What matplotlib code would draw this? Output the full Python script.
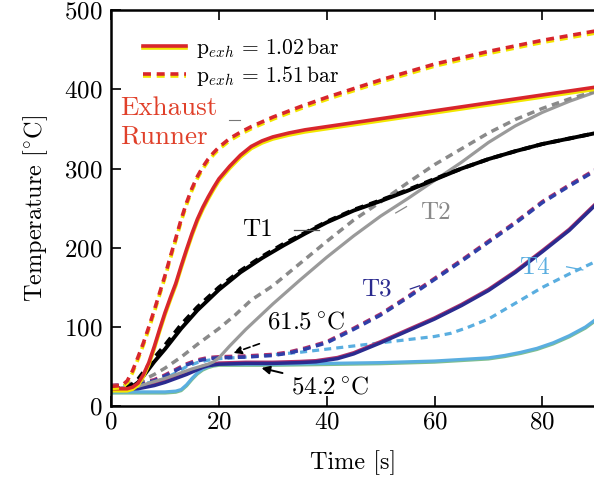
import matplotlib
matplotlib.use("Agg")
import matplotlib.pyplot as plt
import matplotlib.patheffects as pe

plt.rcParams['font.family'] = 'serif'
plt.rcParams['font.serif'] = ['cmr10', 'DejaVu Serif']
plt.rcParams['mathtext.fontset'] = 'cm'
plt.rcParams['axes.formatter.use_mathtext'] = True

# ---- data ----
t_ex_s = [0, 3, 4, 5, 6, 7, 8, 9, 10, 11, 12, 13, 14, 15, 16, 17, 18, 19, 20, 22, 24, 26, 28, 30, 33, 36, 40, 50, 60, 70, 80, 90]
T_ex_s = [22, 22, 24, 29, 40, 55, 75, 97, 118, 137, 155, 177, 198, 218, 236, 251, 264, 276, 287, 303, 317, 328, 335, 340, 345, 349, 353, 363, 373, 383, 393, 403]
t_ex_d = [0, 2, 3, 4, 5, 6, 7, 8, 9, 10, 11, 12, 13, 14, 15, 16, 17, 18, 19, 20, 22, 24, 26, 28, 30, 35, 40, 50, 60, 70, 80, 90]
T_ex_d = [25, 26, 32, 45, 62, 80, 100, 121, 143, 165, 189, 212, 236, 257, 275, 290, 302, 312, 320, 327, 338, 346, 353, 359, 365, 378, 390, 412, 432, 448, 462, 474]

t_T1 = [0, 3, 4, 5, 6, 7, 8, 10, 13, 16, 20, 24, 28, 32, 36, 40, 45, 50, 55, 60, 65, 70, 75, 80, 85, 90]
T1_s = [20, 22, 25, 30, 38, 47, 56, 72, 98, 121, 147, 169, 187, 203, 218, 232, 247, 259, 272, 286, 300, 312, 322, 331, 338, 345]
T1_d = [22, 24, 28, 34, 43, 52, 61, 77, 103, 125, 150, 171, 189, 205, 219, 233, 248, 260, 273, 287, 300, 312, 322, 331, 338, 345]

t_T2s = [0, 5, 10, 15, 17, 18, 19, 20, 22, 25, 30, 35, 40, 45, 50, 55, 60, 65, 70, 75, 80, 85, 90]
T2_s = [22, 25, 35, 47, 51, 53, 56, 61, 76, 97, 129, 159, 188, 215, 240, 262, 285, 308, 333, 354, 371, 385, 397]
t_T2d = [0, 5, 8, 10, 13, 16, 20, 23, 26, 30, 35, 40, 45, 50, 55, 60, 65, 70, 75, 80, 85, 90]
T2_d = [25, 30, 40, 48, 62, 78, 98, 115, 134, 152, 180, 208, 235, 258, 282, 305, 325, 345, 362, 376, 388, 398]

t_T3s = [0, 5, 8, 10, 12, 14, 16, 17, 18, 20, 25, 30, 35, 38, 40, 42, 45, 50, 55, 60, 65, 70, 75, 80, 85, 90]
T3_s = [20, 22, 26, 30, 35, 40, 46, 49, 51, 53, 54, 54, 55, 56, 58, 60, 66, 80, 95, 110, 127, 146, 169, 195, 222, 255]
t_T3d = [0, 5, 8, 10, 12, 14, 16, 18, 20, 25, 30, 33, 36, 40, 45, 50, 55, 60, 65, 70, 75, 80, 85, 90]
T3_d = [25, 27, 32, 38, 45, 52, 57, 60, 61, 62, 64, 67, 72, 80, 97, 115, 137, 160, 183, 207, 231, 257, 278, 298]

t_T4s = [0, 5, 10, 12, 13, 14, 15, 16, 17, 18, 19, 20, 25, 30, 40, 50, 60, 65, 70, 73, 76, 79, 82, 85, 88, 90]
T4_s = [18, 18, 18, 19, 21, 27, 35, 42, 47, 50, 52, 53, 53, 53, 54, 55, 57, 59, 61, 64, 68, 73, 80, 89, 100, 110]
t_T4d = [0, 5, 8, 10, 12, 14, 16, 18, 20, 25, 30, 35, 40, 45, 50, 55, 60, 63, 66, 70, 75, 80, 85, 90]
T4_d = [25, 27, 31, 35, 42, 50, 55, 58, 60, 62, 65, 68, 72, 76, 80, 84, 88, 92, 99, 110, 130, 150, 167, 183]

xticks = [0, 20, 40, 60, 80]
yticks = [0, 100, 200, 300, 400, 500]

fig = plt.figure(figsize=(5.94, 4.87), dpi=100)
ax = fig.add_axes([0.187, 0.166, 0.815, 0.813])

def shadow(color, off=(0, -1.5)):
    return [pe.SimpleLineShadow(offset=off, shadow_color=color, alpha=1.0), pe.Normal()]

red = '#d8262c'
yel = '#f2e600'
dash = (2.2, 1.6)

ax.plot(t_T4s, T4_s, color='#5aaee0', lw=2.3, path_effects=shadow('#7fbf90', (0, -0.8)))
ax.plot(t_T4d, T4_d, color='#5aaee0', lw=2.3, dashes=dash)
ax.plot(t_T3s, T3_s, color='#2b2b8f', lw=2.5, path_effects=shadow('#b0306a', (0, 0.8)))
ax.plot(t_T3d, T3_d, color='#2f3fa8', lw=2.5, dashes=dash, path_effects=shadow('#b0306a', (0, 0.8)))
ax.plot(t_T2s, T2_s, color='#9a9a9a', lw=2.3)
ax.plot(t_T2d, T2_d, color='#8a8a8a', lw=2.5, dashes=dash)
ax.plot(t_T1, T1_s, color='black', lw=2.8)
ax.plot(t_T1, T1_d, color='black', lw=2.8, dashes=dash)
ax.plot(t_ex_s, T_ex_s, color=red, lw=2.6, path_effects=shadow(yel),
        label=r'$\mathrm{p}_{exh}\,=\,1.02\,\mathrm{bar}$')
ax.plot(t_ex_d, T_ex_d, color=red, lw=2.6, dashes=dash, path_effects=shadow(yel),
        label=r'$\mathrm{p}_{exh}\,=\,1.51\,\mathrm{bar}$')

leg = ax.legend(loc='upper left', frameon=False, fontsize=15.5, handlelength=2.0,
                bbox_to_anchor=(0.025, 0.985), borderaxespad=0.5, labelspacing=0.2,
                handletextpad=0.5)

fs = 18
# annotations
ax.text(1.6, 376, 'Exhaust', color='#e0402a', fontsize=19.5, va='center')
ax.text(1.6, 340, 'Runner', color='#e0402a', fontsize=19.5, va='center')
ax.plot([21.8, 24.0], [361, 361], color='#777777', lw=0.8)
ax.text(24.3, 222, 'T1', fontsize=fs, va='center')
ax.plot([34, 38.5], [223, 223], color='#555555', lw=0.9)
ax.text(57.4, 244, 'T2', fontsize=fs, va='center', color='#8a8a8a')
ax.plot([52.8, 54.8], [244, 252], color='#888888', lw=0.9)
ax.text(46.3, 147, 'T3', fontsize=fs, va='center', color='#2b2b8f')
ax.plot([55.5, 57.2], [148, 152], color='#2b2b8f', lw=0.9)
ax.text(75.6, 174, 'T4', fontsize=fs, va='center', color='#5aaee0')
ax.plot([84.5, 87.5], [176, 172], color='#5aaee0', lw=0.9)

ax.text(29, 106, r'$61.5\,^{\circ}\mathrm{C}$', fontsize=fs, va='center')
ax.annotate('', xy=(22.2, 66), xytext=(28.0, 80),
            arrowprops=dict(arrowstyle='-|>', color='black', lw=1.2, ls=(0, (4, 2)),
                            mutation_scale=12))
ax.text(33.3, 24, r'$54.2\,^{\circ}\mathrm{C}$', fontsize=fs, va='center')
ax.annotate('', xy=(27.4, 49), xytext=(32.3, 41),
            arrowprops=dict(arrowstyle='-|>', color='black', lw=1.4, mutation_scale=12))

ax.set_xlim(0, 89.8)
ax.set_ylim(0, 500)
ax.set_xticks(xticks)
ax.set_yticks(yticks)
ax.tick_params(direction='in', length=7, width=1.2, labelsize=18, top=True, right=False)
ax.tick_params(axis='y', pad=6)
for s in ['left', 'bottom', 'top']:
    ax.spines[s].set_linewidth(1.8)
ax.spines['right'].set_visible(False)
ax.set_xlabel(r'Time [s]', fontsize=17.5, labelpad=12)
ax.set_ylabel(r'Temperature [$^{\circ}$C]', fontsize=17.5, labelpad=10)

fig.savefig('out.png', dpi=100)
